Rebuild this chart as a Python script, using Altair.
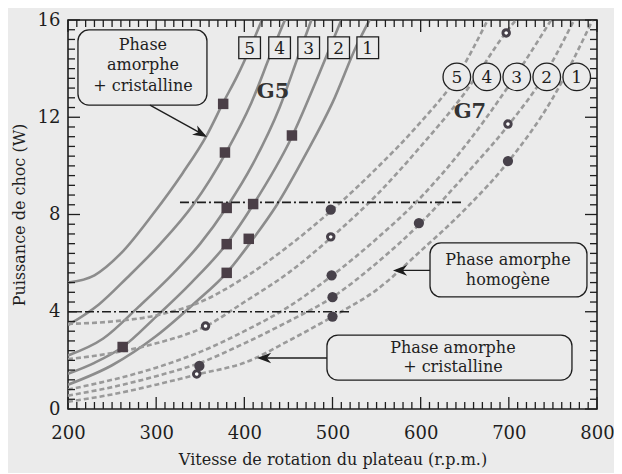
import altair as alt
import pandas as pd

# ---------------- data ----------------
# G5 model curves (solid), rpm -> W
g5_c5_v = [200, 230, 260, 296, 330, 358, 376, 392, 406, 420]
g5_c5_p = [5.2, 5.5, 6.4, 8.0, 9.7, 11.3, 12.6, 13.7, 14.8, 16.0]
g5_c4_v = [200, 235, 267, 305, 342, 380, 408, 431, 446]
g5_c4_p = [3.45, 4.3, 5.4, 6.8, 8.4, 10.6, 12.6, 14.7, 16.0]
g5_c3_v = [200, 240, 280, 320, 350, 380, 410, 440, 461, 476]
g5_c3_p = [2.2, 2.9, 4.2, 5.6, 6.8, 8.3, 10.1, 12.4, 14.5, 16.0]
g5_c2_v = [200, 230, 262, 300, 340, 380, 410, 454, 485, 510]
g5_c2_p = [1.45, 1.9, 2.55, 3.8, 5.2, 6.8, 8.4, 11.2, 13.8, 16.0]
g5_c1_v = [200, 250, 300, 345, 380, 410, 437, 470, 500, 528, 542]
g5_c1_p = [1.0, 1.8, 3.0, 4.4, 5.6, 7.0, 8.4, 10.5, 12.6, 15.0, 16.0]

# G7 model curves (dashed)
g7_c5_v = [200, 250, 300, 350, 400, 450, 500, 550, 600, 640, 676]
g7_c5_p = [3.5, 3.6, 3.85, 4.4, 5.4, 6.7, 8.2, 9.9, 11.8, 13.6, 16.0]
g7_c4_v = [200, 250, 300, 356, 400, 450, 500, 550, 600, 650, 697, 708]
g7_c4_p = [2.05, 2.3, 2.7, 3.4, 4.4, 5.6, 7.1, 8.8, 10.8, 13.0, 15.5, 16.0]
g7_c3_v = [200, 250, 300, 350, 400, 450, 500, 550, 600, 650, 700, 748]
g7_c3_p = [0.8, 1.2, 1.7, 2.35, 3.2, 4.2, 5.5, 7.0, 8.7, 10.8, 13.3, 16.0]
g7_c2_v = [200, 250, 300, 350, 400, 450, 500, 550, 600, 650, 700, 740, 774]
g7_c2_p = [0.55, 0.9, 1.35, 1.9, 2.7, 3.6, 4.6, 6.0, 7.65, 9.6, 11.7, 13.7, 16.0]
g7_c1_v = [200, 250, 300, 350, 400, 450, 500, 550, 600, 650, 700, 750, 795]
g7_c1_p = [0.3, 0.6, 1.0, 1.45, 1.9, 2.8, 3.8, 4.9, 6.5, 8.2, 10.2, 12.8, 16.0]

# experimental points
sq_v = [262, 376, 378, 380, 380, 380, 410, 405, 454]
sq_p = [2.55, 12.55, 10.55, 8.27, 6.78, 5.6, 8.43, 7.0, 11.25]
fc_v = [498, 499, 500, 500, 598, 699, 349]
fc_p = [8.2, 5.5, 4.6, 3.8, 7.65, 10.2, 1.77]
oc_v = [697, 699, 498, 356, 346]
oc_p = [15.47, 11.72, 7.08, 3.41, 1.44]

# phase boundaries (dash-dot)
hl_p = [4.0, 8.5]
hl_v1 = [200, 327]
hl_v2 = [522, 647]

# curve labels
curve_ids = ["5", "4", "3", "2", "1"]
g5_lab_v = [406, 440, 473, 507, 540]
g5_lab_p = 14.86
g7_lab_v = [641, 675, 709, 743, 777]
g7_lab_p = 13.66

# ---------------- styling ----------------
BG = "#ebebeb"
INK = "#1e1e1e"
FONT = "DejaVu Serif"
W, H = 529, 389

xs = alt.Scale(domain=[200, 800], nice=False, zero=False)
ys = alt.Scale(domain=[0, 16], nice=False, zero=False)


def curves_df(vs, ps, prefix):
    rows = []
    for cid, v, p in zip(curve_ids, vs, ps):
        for a, b in zip(v, p):
            rows.append({"v": a, "P": b, "curve": prefix + cid})
    return pd.DataFrame(rows)


g5 = curves_df([g5_c5_v, g5_c4_v, g5_c3_v, g5_c2_v, g5_c1_v],
               [g5_c5_p, g5_c4_p, g5_c3_p, g5_c2_p, g5_c1_p], "G5-")
g7 = curves_df([g7_c5_v, g7_c4_v, g7_c3_v, g7_c2_v, g7_c1_v],
               [g7_c5_p, g7_c4_p, g7_c3_p, g7_c2_p, g7_c1_p], "G7-")

xaxis = alt.Axis(values=list(range(200, 801, 100)), ticks=False, domain=False, grid=False,
                 title="Vitesse de rotation du plateau (r.p.m.)",
                 labelFont=FONT, labelFontSize=18, labelColor=INK, labelPadding=15,
                 labelFlush=False, labelOverlap=False,
                 titleFont=FONT, titleFontSize=16, titleFontWeight="normal",
                 titleColor=INK, titlePadding=9)
yaxis = alt.Axis(values=[0, 4, 8, 12, 16], ticks=False, domain=False, grid=False,
                 title="Puissance de choc (W)",
                 labelFont=FONT, labelFontSize=18, labelColor=INK, labelPadding=8,
                 labelFlush=False, labelOverlap=False,
                 titleFont=FONT, titleFontSize=16, titleFontWeight="normal",
                 titleColor=INK, titlePadding=10)


def X(f="v"):
    return alt.X(f, type="quantitative", scale=xs, axis=xaxis,
                 title="Vitesse de rotation du plateau (r.p.m.)")


def Y(f="P"):
    return alt.Y(f, type="quantitative", scale=ys, axis=yaxis, title="Puissance de choc (W)")


layers = []

# curves G5 (solid)
layers.append(alt.Chart(g5).mark_line(color="#8c8c8c", strokeWidth=2.6, interpolate="monotone", clip=True)
              .encode(x=X(), y=Y(), detail="curve:N"))
# curves G7 (dashed)
layers.append(alt.Chart(g7).mark_line(color="#9a9a9a", strokeWidth=2.6, strokeDash=[5, 3],
                                      interpolate="monotone", clip=True)
              .encode(x=X(), y=Y(), detail="curve:N"))

# ticks (inward), drawn with the scales
x_major = list(range(200, 801, 100))
x_minor = [v for v in range(200, 801, 10) if v % 100]
y_major = [0, 4, 8, 12, 16]
y_minor = [round(i * 0.4, 1) for i in range(41) if i % 10]
for vals, ln in ((x_major, 12), (x_minor, 7)):
    d = pd.DataFrame({"v": vals})
    layers.append(alt.Chart(d).mark_rule(color=INK, strokeWidth=1.3)
                  .encode(x=X(), y=alt.value(H), y2=alt.value(H - ln)))
    layers.append(alt.Chart(d).mark_rule(color=INK, strokeWidth=1.3)
                  .encode(x=X(), y=alt.value(0), y2=alt.value(ln)))
for vals, ln in ((y_major, 12), (y_minor, 7)):
    d = pd.DataFrame({"P": vals})
    layers.append(alt.Chart(d).mark_rule(color=INK, strokeWidth=1.3)
                  .encode(y=Y(), x=alt.value(0), x2=alt.value(ln)))
    layers.append(alt.Chart(d).mark_rule(color=INK, strokeWidth=1.3)
                  .encode(y=Y(), x=alt.value(W), x2=alt.value(W - ln)))

# dash-dot phase limits
hl = pd.DataFrame({"P": hl_p, "v1": hl_v1, "v2": hl_v2})
layers.append(alt.Chart(hl).mark_rule(color=INK, strokeWidth=1.6, strokeDash=[9, 3, 2, 3])
              .encode(x=X("v1"), x2="v2:Q", y=Y()))

# experimental points
layers.append(alt.Chart(pd.DataFrame({"v": sq_v, "P": sq_p}))
              .mark_point(shape="square", filled=True, size=110, color="#4b3f47", opacity=1)
              .encode(x=X(), y=Y()))
layers.append(alt.Chart(pd.DataFrame({"v": fc_v, "P": fc_p}))
              .mark_point(shape="circle", filled=True, size=105, color="#47414a", opacity=1)
              .encode(x=X(), y=Y()))
layers.append(alt.Chart(pd.DataFrame({"v": oc_v, "P": oc_p}))
              .mark_point(shape="circle", filled=True, size=42, fill="white", stroke="#47414a",
                          strokeWidth=3, opacity=1)
              .encode(x=X(), y=Y()))

# annotation boxes
boxes = pd.DataFrame({"v": [211.3, 610.6, 493.7], "v2": [357.6, 788.6, 771.6],
                      "P": [15.59, 6.83, 3.04], "p2": [12.5, 4.61, 1.19]})
layers.append(alt.Chart(boxes).mark_rect(cornerRadius=11, fill=BG, stroke=INK, strokeWidth=1.3)
              .encode(x=X(), x2="v2:Q", y=Y(), y2="p2:Q"))
btxt = pd.DataFrame({
    "v": [285, 285, 285, 699, 699, 636.6, 636.6],
    "P": [14.97, 14.15, 13.29, 6.13, 5.31, 2.51, 1.73],
    "t": ["Phase", "amorphe", "+ cristalline", "Phase amorphe", "homogène",
          "Phase amorphe", "+ cristalline"]})
layers.append(alt.Chart(btxt).mark_text(font=FONT, fontSize=16, color=INK, baseline="middle", align="center")
              .encode(x=X(), y=Y(), text="t:N"))

# arrows
arr = pd.DataFrame({"v": [293, 610.6, 493.7], "P": [12.5, 5.7, 2.1],
                    "v2": [355, 572, 418], "p2": [11.25, 5.7, 2.1]})
layers.append(alt.Chart(arr).mark_rule(color=INK, strokeWidth=1.4)
              .encode(x=X(), y=Y(), x2="v2:Q", y2="p2:Q"))
heads = pd.DataFrame({"v": [357.6, 568.6, 414.4], "P": [11.19, 5.7, 2.1], "a": [29, 180, 180]})
layers.append(alt.Chart(heads).mark_point(shape="M0,0 L-2,-0.75 L-1.4,0 L-2,0.75 Z", filled=True,
                                          size=200, color=INK, opacity=1)
              .encode(x=X(), y=Y(), angle=alt.Angle("a:Q", scale=None)))

# curve family labels
lab5 = pd.DataFrame({"v": g5_lab_v, "P": [g5_lab_p] * 5, "t": curve_ids})
lab7 = pd.DataFrame({"v": g7_lab_v, "P": [g7_lab_p] * 5, "t": curve_ids})
layers.append(alt.Chart(lab5).mark_point(shape="square", size=470, filled=True, fill=BG,
                                         stroke=INK, strokeWidth=1.3, opacity=1)
              .encode(x=X(), y=Y()))
layers.append(alt.Chart(lab7).mark_point(shape="circle", size=760, filled=True, fill=BG,
                                         stroke=INK, strokeWidth=1.3, opacity=1)
              .encode(x=X(), y=Y()))
layers.append(alt.Chart(pd.concat([lab5, lab7])).mark_text(font=FONT, fontSize=17, color=INK,
                                                           baseline="middle", align="center", dy=1)
              .encode(x=X(), y=Y(), text="t:N"))
gtxt = pd.DataFrame({"v": [432.5, 655.9], "P": [13.04, 12.22], "t": ["G5", "G7"]})
layers.append(alt.Chart(gtxt).mark_text(font=FONT, fontSize=21, fontWeight="bold", color="#333333",
                                        baseline="middle", align="center")
              .encode(x=X(), y=Y(), text="t:N"))

chart = (alt.layer(*layers)
         .properties(width=W, height=H, background=BG,
                     autosize=alt.AutoSizeParams(type="none"),
                     padding={"left": 60, "top": 12, "right": 17, "bottom": 64})
         .configure_view(stroke=INK, strokeWidth=1.6))

chart.save("out.html", embed_options={"renderer": "svg", "actions": False})
